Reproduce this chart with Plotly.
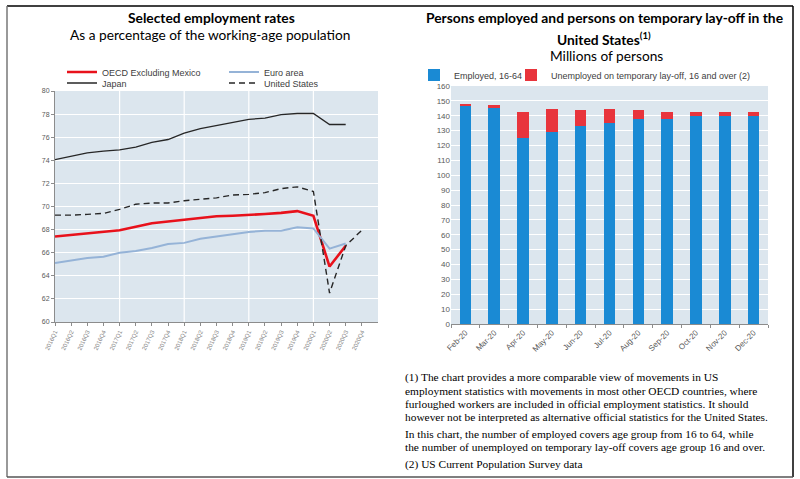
import plotly.graph_objects as go

# ---------------- data ----------------
quarters = ["2016Q1", "2016Q2", "2016Q3", "2016Q4", "2017Q1", "2017Q2", "2017Q3", "2017Q4",
            "2018Q1", "2018Q2", "2018Q3", "2018Q4", "2019Q1", "2019Q2", "2019Q3", "2019Q4",
            "2020Q1", "2020Q2", "2020Q3", "2020Q4"]
oecd_ex_mexico = [67.4, 67.55, 67.65, 67.8, 67.95, 68.25, 68.55, 68.7, 68.85, 69.0, 69.15, 69.2,
                  69.25, 69.35, 69.45, 69.6, 69.2, 64.8, 66.6, None]
euro_area = [65.1, 65.35, 65.55, 65.65, 66.0, 66.15, 66.4, 66.75, 66.85, 67.2, 67.4, 67.6,
             67.8, 67.9, 67.9, 68.2, 68.1, 66.35, 66.8, None]
japan = [74.05, 74.35, 74.65, 74.8, 74.9, 75.15, 75.55, 75.8, 76.35, 76.75, 77.0, 77.25,
         77.55, 77.65, 77.95, 78.05, 78.05, 77.1, 77.1, None]
united_states = [69.25, 69.25, 69.32, 69.4, 69.75, 70.2, 70.3, 70.3, 70.5, 70.6, 70.75, 71.0,
                 71.05, 71.2, 71.55, 71.7, 71.3, 62.5, 66.6, 67.95]

months = ["Feb-20", "Mar-20", "Apr-20", "May-20", "Jun-20", "Jul-20", "Aug-20", "Sep-20",
          "Oct-20", "Nov-20", "Dec-20"]
employed_16_64 = [147.2, 145.2, 124.8, 129.1, 133.3, 135.4, 137.6, 137.6, 139.8, 139.8, 139.8]
temp_layoff = [0.9, 1.8, 17.7, 15.2, 10.6, 9.1, 6.3, 4.9, 2.7, 2.7, 2.7]

left_yticks = list(range(60, 81, 2))
right_yticks = list(range(0, 161, 10))

# ---------------- helpers ----------------
W, H = 800, 479
def px(x):
    return x / W
def py(y):
    return 1 - y / H

SANS = "Liberation Sans, Arial, sans-serif"
TITLE = "Lato, Open Sans, sans-serif"
SERIF = "Liberation Serif, Times New Roman, serif"
GRAY = "#595959"
BG = "#DCE6EE"

fig = go.Figure()

# ---------------- left chart: employment rates ----------------
fig.add_trace(go.Scatter(x=quarters, y=oecd_ex_mexico, name="OECD Excluding Mexico", mode="lines",
                         line=dict(color="#E8111B", width=2.6), xaxis="x", yaxis="y",
                         legend="legend", showlegend=True))
fig.add_trace(go.Scatter(x=quarters, y=euro_area, name="Euro area", mode="lines",
                         line=dict(color="#95B3D7", width=2), xaxis="x", yaxis="y",
                         legend="legend2", showlegend=True))
fig.add_trace(go.Scatter(x=quarters, y=japan, name="Japan", mode="lines",
                         line=dict(color="#262626", width=1.3), xaxis="x", yaxis="y",
                         legend="legend3", showlegend=True))
fig.add_trace(go.Scatter(x=quarters, y=united_states, name="United States", mode="lines",
                         line=dict(color="#262626", width=1.4, dash="6px,4px"), xaxis="x", yaxis="y",
                         legend="legend4", showlegend=True))

# ---------------- right chart: persons employed / lay-off ----------------
fig.add_trace(go.Bar(x=months, y=employed_16_64, name="Employed, 16-64",
                     marker=dict(color="#1A8AD4", line=dict(width=0)), xaxis="x2", yaxis="y2",
                     legend="legend5", showlegend=True))
fig.add_trace(go.Bar(x=months, y=temp_layoff, name="Unemployed on temporary lay-off, 16 and over (2)",
                     marker=dict(color="#E8343C", line=dict(width=0)), xaxis="x2", yaxis="y2",
                     legend="legend6", showlegend=True))

axis_common = dict(linecolor="#8C8C8C", linewidth=1, ticks="outside", tickcolor="#8C8C8C",
                   ticklen=3, zeroline=False, automargin=False)

fig.update_layout(
    width=W, height=H,
    margin=dict(l=0, r=0, t=0, b=0, pad=0, autoexpand=False),
    paper_bgcolor="white",
    plot_bgcolor=BG,
    showlegend=True,
    barmode="stack",
    bargap=0.6,
    font=dict(family=SANS, color=GRAY),
    xaxis=dict(domain=[px(55), px(378)], type="category", range=[0, 20], showgrid=False,
               showline=True, tickangle=-65, tickfont=dict(size=6, color="#7F7F7F"),
               anchor="y", **axis_common),
    yaxis=dict(domain=[py(322), py(91)], range=[60, 80], tickvals=left_yticks,
               showgrid=True, gridcolor="white", gridwidth=1.2, showline=True,
               tickfont=dict(size=7, color=GRAY), anchor="x", **axis_common),
    xaxis2=dict(domain=[px(451), px(768)], type="category", showgrid=False, showline=True,
                tickson="boundaries", tickangle=-45, tickfont=dict(size=8, color=GRAY),
                anchor="y2", **axis_common),
    yaxis2=dict(domain=[py(324), py(86)], range=[0, 160], tickvals=right_yticks,
                showgrid=True, gridcolor="white", gridwidth=1.2, showline=False, ticks="",
                tickfont=dict(size=8, color=GRAY), anchor="x2", zeroline=False, automargin=False),
)

leg_common = dict(bgcolor="rgba(0,0,0,0)", borderwidth=0, orientation="v", visible=True,
                  font=dict(family=SANS, size=9, color="#404040"),
                  xanchor="left", yanchor="middle", itemclick=False, itemdoubleclick=False)
fig.update_layout(
    legend=dict(x=px(62), y=py(72), **leg_common),
    legend2=dict(x=px(224), y=py(72), **leg_common),
    legend3=dict(x=px(62), y=py(83), **leg_common),
    legend4=dict(x=px(224), y=py(83), **leg_common),
    legend5=dict(x=px(414), y=py(75), **leg_common),
    legend6=dict(x=px(511), y=py(75), **leg_common),
)

# vertical gridlines on left chart every 4 quarters
shapes = []
for q in quarters[4::4]:
    shapes.append(dict(type="line", xref="x", yref="y domain", x0=q, x1=q, y0=0, y1=1,
                       line=dict(color="white", width=1.2), layer="below"))

# outer frame
shapes += [
    dict(type="line", xref="paper", yref="paper", x0=px(7), x1=px(793), y0=py(6), y1=py(6),
         line=dict(color="black", width=1.5)),
    dict(type="line", xref="paper", yref="paper", x0=px(7), x1=px(7), y0=py(6), y1=py(477),
         line=dict(color="#777777", width=1.5)),
    dict(type="line", xref="paper", yref="paper", x0=px(793), x1=px(793), y0=py(6), y1=py(477),
         line=dict(color="black", width=1.5)),
    dict(type="line", xref="paper", yref="paper", x0=px(7), x1=px(793), y0=py(477), y1=py(477),
         line=dict(color="#555555", width=1.5)),
]
fig.update_layout(shapes=shapes)

annotations = []
def text(x, y, s, size, family=TITLE, color="black", xanchor="center"):
    annotations.append(dict(xref="paper", yref="paper", x=px(x), y=py(y), text=s, showarrow=False,
                            xanchor=xanchor, yanchor="middle",
                            font=dict(family=family, size=size, color=color)))

text(211, 17, "<b>Selected employment rates</b>", 13.8)
text(210, 35, "As a percentage of the working-age population", 13.7)
text(604, 17, "<b>Persons employed and persons on temporary lay-off in the</b>", 13.8)
text(604, 38, "<b>United States<sup>(1)</sup></b>", 13.8)
text(606, 56, "Millions of persons", 13.7)

foot = [
    (377, "(1) The chart provides a more comparable view of movements in US"),
    (391, "employment statistics with movements in most other OECD countries, where"),
    (404, "furloughed workers are included in official employment statistics. It should"),
    (417, "however not be interpreted as alternative official statistics for the United States."),
    (434, "In this chart, the number of employed covers age group from 16 to 64, while"),
    (447, "the number of unemployed on temporary lay-off covers age group 16 and over."),
    (464, "(2) US Current Population Survey data"),
]
for y, s in foot:
    text(403, y, s, 11.4, family=SERIF, color="black", xanchor="left")

fig.update_layout(annotations=annotations)

fig.write_html("out.html", config={"displayModeBar": False},
               post_script="document.body.style.margin='0px';document.body.style.overflow='hidden';")
